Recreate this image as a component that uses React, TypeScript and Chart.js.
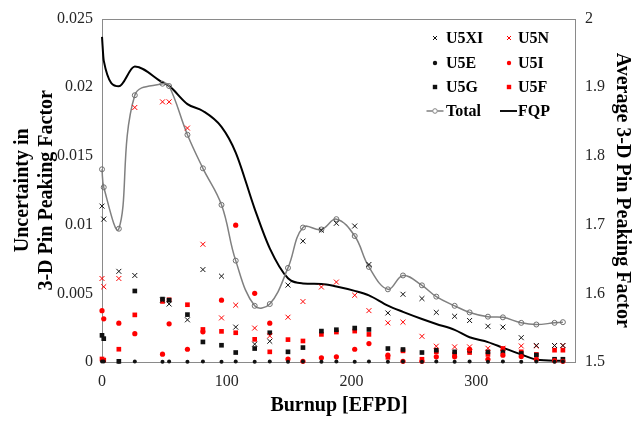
import React, { useEffect, useRef } from 'react';
import { Chart, registerables } from 'chart.js';

Chart.register(...registerables);

const FONT = "'Liberation Serif', 'Times New Roman', serif";

// Burnup steps [EFPD]
const burnup = [0, 1.4, 13.5, 26.3, 48.5, 53.8, 68.5, 80.9, 95.8, 107.2, 122.4, 134.5, 149.1, 161.1, 175.9, 187.9, 202.6, 214, 229.2, 241.3, 256.5, 268, 282.7, 294.7, 309.4, 321.4, 336.1, 348.2, 362.8, 369.5];

const u5xi = [0.01135, 0.0104, 0.0066, 0.0063, 0.0045, 0.00422, 0.00307, 0.00673, 0.00625, 0.00254, 0.0013, 0.00151, 0.0056, 0.0088, 0.0096, 0.0101, 0.0099, 0.0071, 0.00357, 0.00493, 0.00462, 0.00361, 0.00333, 0.00302, 0.0026, 0.00254, 0.00177, 0.0012, 0.0012, 0.0012];
const u5n = [0.00608, 0.00548, 0.00608, 0.01853, 0.01894, 0.01894, 0.01703, 0.00857, 0.00321, 0.00414, 0.00247, 0.0019, 0.00326, 0.0044, 0.00546, 0.00582, 0.00486, 0.00374, 0.00285, 0.0029, 0.00187, 0.00115, 0.0011, 0.0011, 0.001, 0.001, 0.00117, 0.00117, 0.0012, 0.0012];
const u5e = [0.00003, 0.00003, 0.00002, 0.00003, 0.00002, 0.00003, 0.00002, 0.00003, 0.00002, 0.00003, 0.00002, 0.00003, 0.00002, 0.00003, 0.00002, 0.00003, 0.00002, 0.00003, 0.00002, 0.00003, 0.00002, 0.00003, 0.00002, 0.00003, 0.00002, 0.00003, 0.00002, 0.00003, 0.00002, 0.00003];
const u5i = [0.00374, 0.00314, 0.00283, 0.00206, 0.00057, 0.00278, 0.00093, 0.0022, 0.0045, 0.00996, 0.005, 0.00283, 0.00022, 0.00005, 0.00031, 0.00038, 0.00093, 0.00134, 0.0005, 0.00005, 0.00005, 0.00038, 0.00038, 0.00093, 0.0002, 0.0005, 0.0004, 0.0002, 0.0001, 0.00005];
const u5g = [0.00194, 0.0017, 0.00005, 0.00517, 0.00458, 0.0045, 0.00345, 0.00146, 0.00122, 0.00069, 0.00098, 0.00213, 0.00074, 0.00105, 0.00225, 0.00235, 0.00247, 0.00237, 0.00098, 0.00091, 0.00069, 0.00086, 0.00074, 0.00086, 0.00074, 0.00074, 0.00062, 0.0005, 0.0002, 0.0002];
const u5f = [0.00022, 0.00014, 0.00093, 0.00343, 0.00441, 0.00453, 0.00417, 0.00237, 0.00223, 0.00213, 0.00165, 0.00074, 0.00163, 0.00153, 0.00201, 0.00218, 0.00225, 0.00201, 0.00034, 0.00081, 0.0002, 0.00074, 0.00057, 0.00069, 0.00055, 0.00098, 0.00074, 0.00055, 0.00086, 0.00086];
const total = [0.01403, 0.01272, 0.0097, 0.01942, 0.02026, 0.02009, 0.01654, 0.0141, 0.01144, 0.00738, 0.00409, 0.00422, 0.00685, 0.00979, 0.00965, 0.0104, 0.00917, 0.00692, 0.00529, 0.0063, 0.00558, 0.00476, 0.00409, 0.00361, 0.0033, 0.00325, 0.00285, 0.00273, 0.00285, 0.0029];
const fqp = [1.9734, 1.9388, 1.9014, 1.9302, 1.907, 1.902, 1.8755, 1.8655, 1.8424, 1.805, 1.723, 1.6655, 1.622, 1.6144, 1.6137, 1.61, 1.6036, 1.597, 1.582, 1.573, 1.5626, 1.5554, 1.5468, 1.536, 1.529, 1.5209, 1.511, 1.5036, 1.502, 1.502];

const xTicks = [0, 100, 200, 300];
const yLeftTicks = [0, 0.005, 0.01, 0.015, 0.02, 0.025];
const yRightTicks = [1.5, 1.6, 1.7, 1.8, 1.9, 2];

const RED = '#ff0000';
const BLACK = '#111111';
const GRAY = '#808080';

function pts(arr: number[]) {
  return burnup.map((x, i) => ({ x, y: arr[i] }));
}

const fmt = (v: number | string) => String(+Number(v).toFixed(6));

type LegendItem = { label: string; kind: string; color: string; col: number; row: number };

const legendItems: LegendItem[] = [
  { label: 'U5XI', kind: 'cross', color: BLACK, col: 0, row: 0 },
  { label: 'U5N', kind: 'cross', color: RED, col: 1, row: 0 },
  { label: 'U5E', kind: 'dot', color: BLACK, col: 0, row: 1 },
  { label: 'U5I', kind: 'dot', color: RED, col: 1, row: 1 },
  { label: 'U5G', kind: 'square', color: BLACK, col: 0, row: 2 },
  { label: 'U5F', kind: 'square', color: RED, col: 1, row: 2 },
  { label: 'Total', kind: 'lineCircle', color: GRAY, col: 0, row: 3 },
  { label: 'FQP', kind: 'line', color: BLACK, col: 1, row: 3 },
];

const borderPlugin = {
  id: 'plotBorder',
  beforeDatasetsDraw(chart: any) {
    const { ctx, chartArea: a } = chart;
    ctx.save();
    ctx.strokeStyle = '#8a8a8a';
    ctx.lineWidth = 1;
    ctx.strokeRect(Math.round(a.left) + 0.5, Math.round(a.top) + 0.5, Math.round(a.right - a.left) - 1, Math.round(a.bottom - a.top));
    ctx.restore();
  },
};

const legendPlugin = {
  id: 'customLegend',
  afterDraw(chart: any) {
    const ctx = chart.ctx;
    const colMarker = [435, 509];
    const colText = [446, 518];
    const rowY = [38, 63, 87, 111];
    ctx.save();
    ctx.font = `bold 16px ${FONT}`;
    ctx.textBaseline = 'middle';
    ctx.textAlign = 'left';
    legendItems.forEach((it) => {
      const cx = colMarker[it.col];
      const cy = rowY[it.row];
      ctx.strokeStyle = it.color;
      ctx.fillStyle = it.color;
      if (it.kind === 'cross') {
        const r = 2;
        ctx.lineWidth = 1;
        ctx.beginPath();
        ctx.moveTo(cx - r, cy - r);
        ctx.lineTo(cx + r, cy + r);
        ctx.moveTo(cx - r, cy + r);
        ctx.lineTo(cx + r, cy - r);
        ctx.stroke();
      } else if (it.kind === 'dot') {
        ctx.beginPath();
        ctx.arc(cx, cy, 2.2, 0, Math.PI * 2);
        ctx.fill();
      } else if (it.kind === 'square') {
        ctx.fillRect(cx - 2.2, cy - 2.2, 4.4, 4.4);
      } else if (it.kind === 'lineCircle') {
        ctx.lineWidth = 1.5;
        ctx.beginPath();
        ctx.moveTo(cx - 8.5, cy);
        ctx.lineTo(cx - 2.5, cy);
        ctx.moveTo(cx + 2.5, cy);
        ctx.lineTo(cx + 8.5, cy);
        ctx.stroke();
        ctx.lineWidth = 1;
        ctx.beginPath();
        ctx.arc(cx, cy, 2.3, 0, Math.PI * 2);
        ctx.stroke();
      } else if (it.kind === 'line') {
        ctx.lineWidth = 2;
        ctx.beginPath();
        ctx.moveTo(cx - 9, cy);
        ctx.lineTo(cx + 8, cy);
        ctx.stroke();
      }
      ctx.fillStyle = '#000';
      ctx.fillText(it.label, colText[it.col], cy + 1);
    });
    ctx.restore();
  },
};

export default function App() {
  const ref = useRef<HTMLCanvasElement>(null);

  useEffect(() => {
    const canvas = ref.current;
    if (!canvas) return;
    const tickFont = { family: FONT, size: 16 };
    const titleFont = { family: FONT, size: 20, weight: 'bold' as const };
    const chart = new Chart(canvas, {
      type: 'scatter',
      data: {
        datasets: [
          { label: 'U5XI', data: pts(u5xi), yAxisID: 'y', pointStyle: 'crossRot', pointRadius: 3.5, pointBorderWidth: 1, borderColor: BLACK, backgroundColor: BLACK, showLine: false, clip: false },
          { label: 'U5N', data: pts(u5n), yAxisID: 'y', pointStyle: 'crossRot', pointRadius: 3.5, pointBorderWidth: 1, borderColor: RED, backgroundColor: RED, showLine: false, clip: false },
          { label: 'U5E', data: pts(u5e), yAxisID: 'y', pointStyle: 'circle', pointRadius: 2, pointBorderWidth: 0, borderColor: BLACK, backgroundColor: BLACK, showLine: false, clip: false },
          { label: 'U5I', data: pts(u5i), yAxisID: 'y', pointStyle: 'circle', pointRadius: 2.6, pointBorderWidth: 0, borderColor: RED, backgroundColor: RED, showLine: false, clip: false },
          { label: 'U5G', data: pts(u5g), yAxisID: 'y', pointStyle: 'rect', pointRadius: 3.3, pointBorderWidth: 0, borderColor: BLACK, backgroundColor: BLACK, showLine: false, clip: false },
          { label: 'U5F', data: pts(u5f), yAxisID: 'y', pointStyle: 'rect', pointRadius: 3.3, pointBorderWidth: 0, borderColor: RED, backgroundColor: RED, showLine: false, clip: false },
          { label: 'Total', data: pts(total), yAxisID: 'y', showLine: true, tension: 0.4, borderColor: GRAY, borderWidth: 1.5, pointStyle: 'circle', pointRadius: 2.5, pointBorderWidth: 1, pointBorderColor: '#6f6f6f', pointBackgroundColor: 'rgba(255,255,255,0)', clip: false },
          { label: 'FQP', data: pts(fqp), yAxisID: 'y2', showLine: true, cubicInterpolationMode: 'monotone', borderColor: '#000', borderWidth: 2, pointRadius: 0, clip: false },
        ] as any,
      },
      options: {
        responsive: false,
        maintainAspectRatio: false,
        animation: false,
        devicePixelRatio: 1,
        layout: { padding: { top: 14, left: 0, right: 0, bottom: 0 } },
        plugins: {
          legend: { display: false },
          tooltip: { enabled: false },
        },
        scales: {
          x: {
            type: 'linear',
            position: 'bottom',
            min: 0,
            max: 380,
            afterBuildTicks: (s: any) => { s.ticks = xTicks.map((v) => ({ value: v })); },
            ticks: { font: tickFont, color: '#262626', padding: 10, maxRotation: 0, includeBounds: false, callback: (v: any) => fmt(v) },
            grid: { display: false, drawTicks: false },
            border: { display: false },
            title: { display: true, text: 'Burnup [EFPD]', font: titleFont, color: '#000', padding: { top: 0, bottom: 3 } },
            afterFit: (s: any) => { s.height = 59; },
          },
          y: {
            type: 'linear',
            position: 'left',
            min: 0,
            max: 0.025,
            afterBuildTicks: (s: any) => { s.ticks = yLeftTicks.map((v) => ({ value: v })); },
            ticks: { font: tickFont, color: '#262626', padding: 9, callback: (v: any) => fmt(v) },
            grid: { display: false, drawTicks: false },
            border: { display: false },
            title: { display: true, text: ['Uncertainty in', '3-D Pin Peaking Factor'], font: titleFont, color: '#000', padding: { top: 11, bottom: 0 } },
            afterFit: (s: any) => { s.width = 102; },
          },
          y2: {
            type: 'linear',
            position: 'right',
            min: 1.5,
            max: 2,
            afterBuildTicks: (s: any) => { s.ticks = yRightTicks.map((v) => ({ value: v })); },
            ticks: { font: tickFont, color: '#262626', padding: 9, callback: (v: any) => fmt(v) },
            grid: { display: false, drawTicks: false },
            border: { display: false },
            title: { display: true, text: 'Average 3-D Pin Peaking Factor', font: titleFont, color: '#000', padding: { top: 2, bottom: 0 } },
            afterFit: (s: any) => { s.width = 60; },
          },
        },
      } as any,
      plugins: [borderPlugin, legendPlugin],
    });
    return () => chart.destroy();
  }, []);

  return (
    <div style={{ position: 'fixed', left: 0, top: 0, width: 636, height: 421, background: '#fff' }}>
      <canvas ref={ref} width={636} height={421} style={{ display: 'block', width: 636, height: 421 }} />
    </div>
  );
}
